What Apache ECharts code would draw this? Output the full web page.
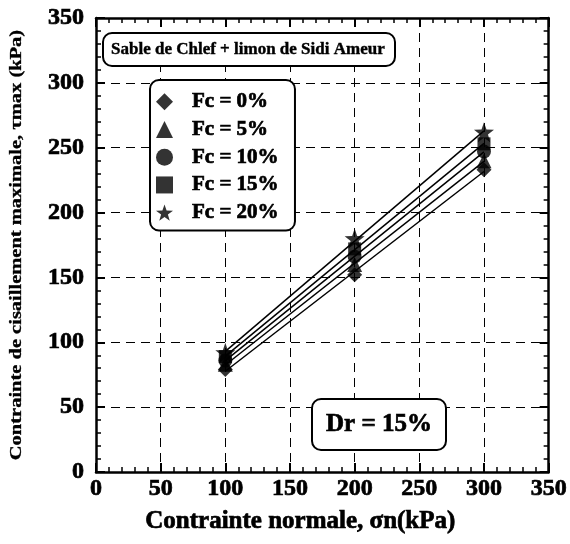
<!DOCTYPE html>
<html>
<head>
<meta charset="utf-8">
<script src="https://cdn.jsdelivr.net/npm/echarts@6/dist/echarts.min.js"></script>
<style>
  html, body { margin: 0; padding: 0; background: #fff; }
  #chart { width: 570px; height: 544px; }
</style>
</head>
<body>
<div id="chart"></div>
<script>
// Normal stress levels (kPa)
const normalStress = [100, 200, 300];
// Fines content labels
const fcLabels = ['Fc = 0%', 'Fc = 5%', 'Fc = 10%', 'Fc = 15%', 'Fc = 20%'];
// Maximum shear stress (kPa) for each fines content
const tauFc0 = [79, 152, 233];
const tauFc5 = [83, 160, 240];
const tauFc10 = [86, 166, 247];
const tauFc15 = [89, 172, 253];
const tauFc20 = [92, 180, 262];
const tauSeries = [tauFc0, tauFc5, tauFc10, tauFc15, tauFc20];
// Axis ticks
const axisMin = 0, axisMax = 350, axisStep = 50;

const FONT = '"Liberation Serif", "Times New Roman", serif';
// heavier strokes for the bold serif text
const heavy = { textBorderColor: '#000', textBorderWidth: 0.7 };
const starPath = 'path://M0,-10 L2.35,-3.24 L9.51,-3.09 L3.8,1.24 L5.88,8.09 L0,4 L-5.88,8.09 L-3.8,1.24 L-9.51,-3.09 L-2.35,-3.24 Z';
const symbols = ['diamond', 'triangle', 'circle', 'rect', starPath];
const symbolSizes = [15, 15, 14, 13, 20];

// Least-squares straight line through each set of points
function fitLine(xs, ys) {
  const n = xs.length;
  const mx = xs.reduce((a, b) => a + b, 0) / n;
  const my = ys.reduce((a, b) => a + b, 0) / n;
  let sxy = 0, sxx = 0;
  for (let i = 0; i < n; i++) { sxy += (xs[i] - mx) * (ys[i] - my); sxx += (xs[i] - mx) ** 2; }
  const b = sxy / sxx, a = my - b * mx;
  const x0 = xs[0], x1 = xs[n - 1];
  return [[x0, a + b * x0], [x1, a + b * x1]];
}

const series = [];
tauSeries.forEach((ys) => {
  series.push({
    type: 'line',
    data: fitLine(normalStress, ys),
    showSymbol: false,
    symbol: 'none',
    lineStyle: { color: '#000', width: 1.5 },
    silent: true,
    z: 2
  });
});
tauSeries.forEach((ys, i) => {
  series.push({
    name: fcLabels[i],
    type: 'scatter',
    data: normalStress.map((x, k) => [x, ys[k]]),
    symbol: symbols[i],
    symbolSize: symbolSizes[i],
    itemStyle: { color: '#000' },
    z: 3
  });
});

const tickCommon = {
  axisLine: { show: true, onZero: false, lineStyle: { color: '#000', width: 2.5 } },
  axisTick: { show: true, inside: true, length: 9, lineStyle: { color: '#000', width: 2 } },
  minorTick: { show: true, splitNumber: 5, length: 5, lineStyle: { color: '#000', width: 1.5 } },
  min: axisMin, max: axisMax, interval: axisStep
};
const tickLabel = Object.assign({ fontFamily: FONT, fontWeight: 'bold', fontSize: 24, color: '#000' }, heavy);

const option = {
  animation: false,
  backgroundColor: '#fff',
  grid: { left: 96, right: 20, top: 18, bottom: 72 },
  title: [
    {
      text: 'Sable de Chlef + limon de Sidi Ameur',
      left: 103, top: 33,
      padding: [8, 10, 8, 8],
      borderColor: '#000', borderWidth: 2, borderRadius: 9,
      backgroundColor: '#fff',
      textStyle: Object.assign({ fontFamily: FONT, fontWeight: 'bold', fontSize: 17, color: '#000' }, { textBorderColor: '#000', textBorderWidth: 0.4 })
    },
    {
      text: 'Dr = 15%',
      left: 312, top: 399,
      padding: [13, 14, 13, 14],
      borderColor: '#000', borderWidth: 2, borderRadius: 9,
      backgroundColor: '#fff',
      textStyle: Object.assign({ fontFamily: FONT, fontWeight: 'bold', fontSize: 25, color: '#000' }, heavy)
    }
  ],
  legend: {
    data: fcLabels,
    orient: 'vertical',
    left: 150, top: 80,
    padding: [11, 16, 7, 6],
    itemGap: 6,
    itemWidth: 17, itemHeight: 17,
    borderColor: '#000', borderWidth: 2, borderRadius: 9,
    backgroundColor: '#fff',
    textStyle: Object.assign({ fontFamily: FONT, fontWeight: 'bold', fontSize: 21, color: '#000', padding: [0, 0, 0, 14] }, heavy)
  },
  graphic: [
    {
      type: 'text',
      x: 17, y: 245,
      rotation: Math.PI / 2,
      scaleX: 1.28,
      style: {
        text: 'Contrainte de cisaillement maximale, τmax (kPa)',
        font: 'bold 16px ' + FONT,
        fill: '#000',
        stroke: '#000',
        lineWidth: 0.3,
        align: 'center',
        verticalAlign: 'middle'
      }
    }
  ],
  xAxis: [
    Object.assign({
      type: 'value', position: 'bottom',
      name: 'Contrainte normale, σn(kPa)',
      nameLocation: 'middle', nameGap: 37,
      nameTextStyle: Object.assign({ fontFamily: FONT, fontWeight: 'bold', fontSize: 25, color: '#000', padding: [0, 44, 0, 0] }, heavy),
      axisLabel: Object.assign({ margin: 5 }, tickLabel),
      splitLine: { show: true, lineStyle: { color: '#000', width: 1, type: [9, 6] } }
    }, tickCommon),
    Object.assign({
      type: 'value', position: 'top',
      axisLabel: { show: false },
      splitLine: { show: false }
    }, tickCommon)
  ],
  yAxis: [
    Object.assign({
      type: 'value', position: 'left',
      axisLabel: Object.assign({ margin: 12 }, tickLabel),
      splitLine: { show: true, lineStyle: { color: '#000', width: 1, type: [9, 6] } }
    }, tickCommon),
    Object.assign({
      type: 'value', position: 'right',
      axisLabel: { show: false },
      splitLine: { show: false }
    }, tickCommon)
  ],
  series: series
};

const chart = echarts.init(document.getElementById('chart'), null, { renderer: 'canvas' });
chart.setOption(option);
</script>
</body>
</html>
